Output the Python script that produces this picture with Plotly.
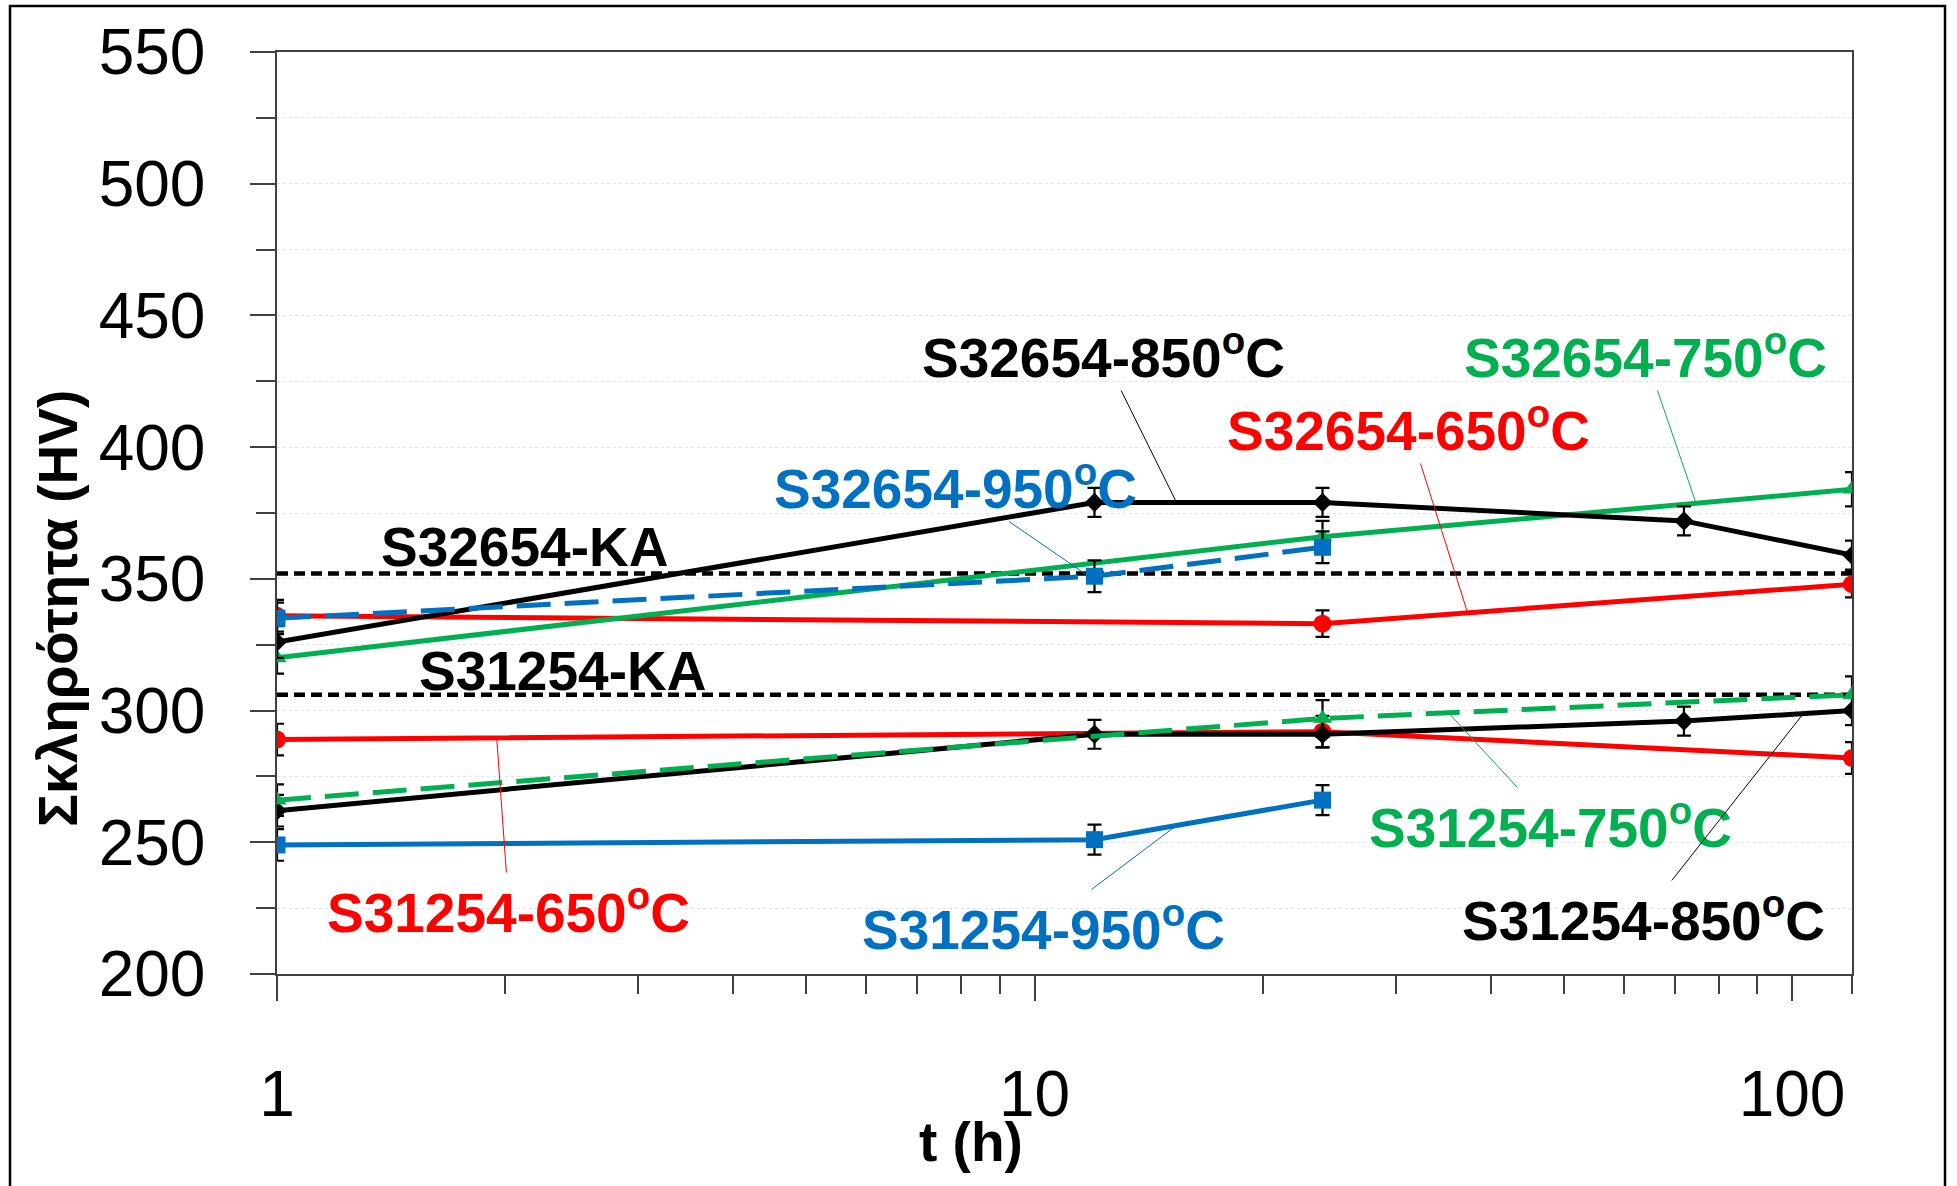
import numpy as np
import plotly.graph_objects as go

# ---- data: ageing time (h) and Vickers hardness (HV) ----
t_650 = [1, 24, 120]
t_750 = [1, 24, 120]
t_850 = [1, 12, 24, 72, 120]
t_950 = [1, 12, 24]

s32654_650 = [336, 333, 348]
s32654_650_err = [6, 5, 5]
s32654_750 = [320, 366, 384]
s32654_750_err = [6, 6, 6.5]
s32654_850 = [326, 379, 379, 372, 359]
s32654_850_err = [6, 5.5, 5.5, 5.5, 5.5]
s32654_950 = [335, 351, 362]
s32654_950_err = [6, 6, 6]

s31254_650 = [289, 292, 282]
s31254_650_err = [6, 6, 6]
s31254_750 = [266, 297, 306]
s31254_750_err = [6, 7, 7]
s31254_850 = [262, 291, 291, 296, 300]
s31254_850_err = [6, 5.5, 5, 5.5, 5.5]
s31254_950 = [249, 251, 266]
s31254_950_err = [6, 5.7, 5.7]

# as-received (KA) hardness
s32654_ka = 352
s31254_ka = 306

t_range = [1, 120]
y_range = [200, 550]
y_ticks = [200, 250, 300, 350, 400, 450, 500, 550]
y_minor = [225, 275, 325, 375, 425, 475, 525]
x_ticks = [1, 10, 100]
x_tick_labels = ["1", "10", "100"]
x_minor = [2, 3, 4, 5, 6, 7, 8, 9, 20, 30, 40, 50, 60, 70, 80, 90, 120]

# ---- styling ----
RED = "#FF0000"
GREEN = "#00B050"
BLACK = "#000000"
BLUE = "#0070C0"
AXIS = "#404040"
FONT = "Liberation Sans, Arial, sans-serif"

W, H = 1957, 1186
ML, MR, MT, MB = 277, 105, 52, 212
PW = W - ML - MR
PH = H - MT - MB


def px_x(t):
    return ML + PW * np.log10(t) / np.log10(t_range[1])


def px_y(v):
    return MT + PH * (y_range[1] - v) / (y_range[1] - y_range[0])


def paper_x(px):
    return (px - ML) / PW


def paper_y(py):
    return (H - MB - py) / PH


fig = go.Figure()

# reference (KA) levels
for ka in (s31254_ka, s32654_ka):
    fig.add_trace(go.Scatter(
        x=t_range, y=[ka, ka], mode="lines",
        line=dict(color=BLACK, width=4.5, dash="11px,6px"),
        hoverinfo="skip", showlegend=False))


def series(name, t, y, err, color, symbol, msize, dash="solid"):
    fig.add_trace(go.Scatter(
        x=t, y=y, name=name, mode="lines+markers",
        line=dict(color=color, width=5, dash=dash),
        marker=dict(color=color, symbol=symbol, size=msize),
        error_y=dict(type="data", array=err, visible=True,
                     color=BLACK, thickness=2.2, width=7),
        showlegend=False))


LONGDASH = "34px,14px"
series("S31254-650", t_650, s31254_650, s31254_650_err, RED, "circle", 18)
series("S31254-850", t_850, s31254_850, s31254_850_err, BLACK, "diamond", 15)
series("S31254-750", t_750, s31254_750, s31254_750_err, GREEN, "triangle-up", 17, LONGDASH)
series("S31254-950", t_950, s31254_950, s31254_950_err, BLUE, "square", 17)
series("S32654-650", t_650, s32654_650, s32654_650_err, RED, "circle", 18)
series("S32654-750", t_750, s32654_750, s32654_750_err, GREEN, "triangle-up", 17)
series("S32654-850", t_850, s32654_850, s32654_850_err, BLACK, "diamond", 15)
series("S32654-950", t_950, s32654_950, s32654_950_err, BLUE, "square", 17, LONGDASH)

# ---- series labels with leader lines ----
LABEL_SIZE = 55
# (text, colour, label centre in px, leader target time, target series)
labels = [
    ("S32654-850", BLACK, (1103, 354), 15.4, (t_850, s32654_850)),
    ("S32654-750", GREEN, (1645, 354), 74.7, (t_750, s32654_750)),
    ("S32654-650", RED, (1409, 427), 37.3, (t_650, s32654_650)),
    ("S32654-950", BLUE, (956, 485), 11.8, (t_950, s32654_950)),
    ("S31254-650", RED, (509, 909), 1.95, (t_650, s31254_650)),
    ("S31254-950", BLUE, (1043, 926), 15.4, (t_950, s31254_950)),
    ("S31254-750", GREEN, (1551, 824), 35.2, (t_750, s31254_750)),
    ("S31254-850", BLACK, (1643, 917), 103.5, (t_850, s31254_850)),
]
for text, color, (cx, cy), t_head, (ts, ys) in labels:
    y_head = float(np.interp(np.log10(t_head), np.log10(ts), ys))
    hx, hy = px_x(t_head), px_y(y_head)
    fig.add_annotation(
        x=np.log10(t_head), y=y_head, xref="x", yref="y",
        text=f"{text}<sup>o</sup>C", showarrow=True, arrowhead=0,
        arrowwidth=1, arrowcolor=color, standoff=0,
        ax=cx - hx, ay=cy - hy,
        font=dict(family=FONT, size=LABEL_SIZE, color=color, weight="bold"))

for text, (cx, cy) in (("S32654-KA", (524, 547)), ("S31254-KA", (562, 671))):
    fig.add_annotation(
        x=paper_x(cx), y=paper_y(cy), xref="paper", yref="paper",
        text=text, showarrow=False, xanchor="center", yanchor="middle",
        font=dict(family=FONT, size=LABEL_SIZE, color=BLACK, weight="bold"))

# axis titles
fig.add_annotation(
    x=paper_x(58), y=paper_y(608), xref="paper", yref="paper",
    text="Σκληρότητα (HV)", textangle=-90, showarrow=False,
    xanchor="center", yanchor="middle",
    font=dict(family=FONT, size=55, color=BLACK, weight="bold"))
fig.add_annotation(
    x=paper_x(971), y=paper_y(1142), xref="paper", yref="paper",
    text="t (h)", showarrow=False, xanchor="center", yanchor="middle",
    font=dict(family=FONT, size=55, color=BLACK, weight="bold"))

# outer frame
fig.add_shape(type="rect", xref="paper", yref="paper",
              x0=paper_x(10), x1=paper_x(1945), y0=paper_y(1260), y1=paper_y(6),
              line=dict(color=BLACK, width=2.5), layer="below")

fig.update_xaxes(
    type="log", range=[np.log10(t_range[0]), np.log10(t_range[1])],
    tickmode="array", tickvals=x_ticks, ticktext=x_tick_labels,
    ticks="outside", ticklen=25, tickwidth=1.5, tickcolor=AXIS,
    showline=True, linecolor=AXIS, linewidth=1.5, mirror=True,
    showgrid=False, zeroline=False, ticklabelstandoff=38,
    tickfont=dict(family=FONT, size=64, color=BLACK),
    minor=dict(tickmode="array", tickvals=x_minor, ticks="outside",
               ticklen=18, tickwidth=1.5, tickcolor=AXIS, showgrid=False))

fig.update_yaxes(
    range=y_range, tickmode="array", tickvals=y_ticks,
    ticks="outside", ticklen=25, tickwidth=1.5, tickcolor=AXIS,
    showline=True, linecolor=AXIS, linewidth=1.5, mirror=True,
    showgrid=True, gridcolor="#e3e3e3", gridwidth=1, griddash="dot",
    zeroline=False, ticklabelstandoff=32,
    tickfont=dict(family=FONT, size=64, color=BLACK),
    minor=dict(tickmode="array", tickvals=y_minor, ticks="outside",
               ticklen=19, tickwidth=1.5, tickcolor=AXIS, showgrid=True,
               gridcolor="#e3e3e3", gridwidth=1, griddash="dot"))

fig.update_layout(
    width=W, height=H,
    margin=dict(l=ML, r=MR, t=MT, b=MB, autoexpand=False),
    paper_bgcolor="white", plot_bgcolor="white",
    showlegend=False,
    font=dict(family=FONT, color=BLACK),
)

fig.write_html("out.html")
